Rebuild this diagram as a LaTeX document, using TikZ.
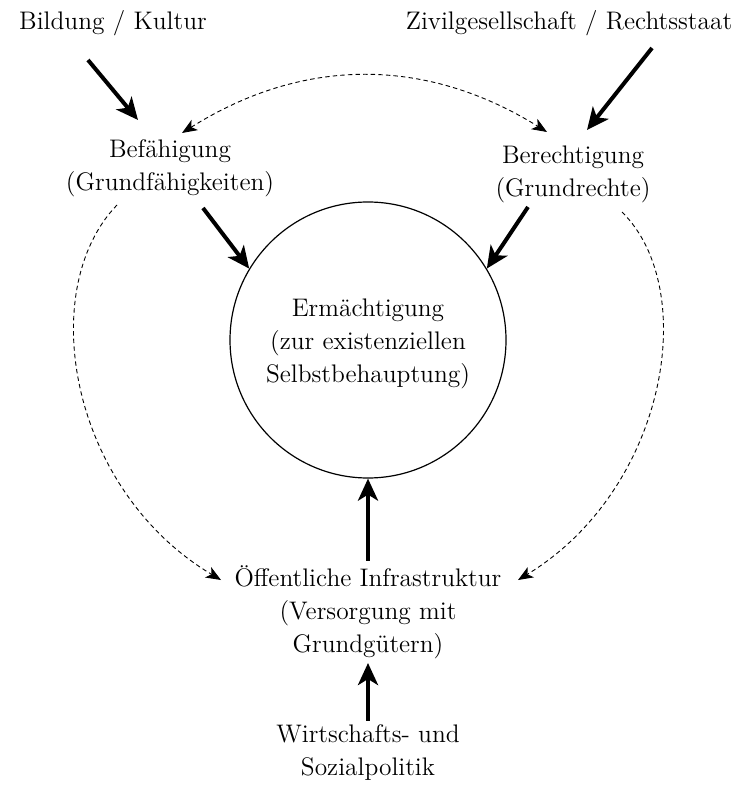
\documentclass[tikz,border=0pt]{standalone}
\usepackage{tikz}
\usetikzlibrary{arrows.meta,positioning}
\tikzset{smalltip/.tip={Stealth[length=7.5pt,width=6pt,inset=2pt]}}

\begin{document}
\begin{tikzpicture}[
    x=0.5pt, y=-0.5pt,
    every node/.style={font=\fontsize{12.7}{16.5}\selectfont},
    lbl/.style={align=center, inner sep=2pt},
    fat/.style={line width=2pt, -{Stealth[length=11pt,width=10pt,inset=3pt]}},
    dashline/.style={line width=0.45pt, dash pattern=on 2.2pt off 1.6pt, -smalltip}]
\useasboundingbox (0,0) rectangle (736,785);

\node[lbl] (bildung) at (113,23) {Bildung / Kultur};
\node[lbl] (zivil) at (569,23) {Zivilgesellschaft / Rechtsstaat};
\node[lbl] (befaehigung) at (170,168) {Bef\"ahigung\\(Grundf\"ahigkeiten)};
\node[lbl] (berechtigung) at (573,174) {Berechtigung\\(Grundrechte)};
\node[circle, draw, line width=0.6pt, minimum size=138pt, inner sep=0, align=center] (erm) at (368,340)
    {\\[-4pt]Erm\"achtigung\\(zur existenziellen\\Selbstbehauptung)};
\node[lbl] (oeff) at (368,612) {\"Offentliche Infrastruktur\\(Versorgung mit\\Grundg\"utern)};
\node[lbl] (wirt) at (368,753) {Wirtschafts- und\\Sozialpolitik};

% thick arrows
\draw[fat] ([shift={(-25,37)}]bildung.center) -- ([shift={(-32,-48)}]befaehigung.center);
\draw[fat] ([shift={(83,25)}]zivil.center) -- ([shift={(14,-44)}]berechtigung.center);
\draw[fat] ([shift={(33,40)}]befaehigung.center) -- (erm.149);
\draw[fat] ([shift={(-45,33)}]berechtigung.center) -- (erm.31);
\draw[fat] (oeff.north) -- (erm.south);
\draw[fat] (wirt.north) -- (oeff.south);

% dashed links
\draw[dashline, smalltip-smalltip] ([shift={(12,-35)}]befaehigung.center) to[bend left=32] ([shift={(-26,-42)}]berechtigung.center);
\draw[dashline] ([shift={(-53,37)}]befaehigung.center) .. controls (35,290) and (70,490) .. ([shift={(-147,-32)}]oeff.center);
\draw[dashline] ([shift={(49,38)}]berechtigung.center) .. controls (701,290) and (666,490) .. ([shift={(150,-32)}]oeff.center);

\end{tikzpicture}
\end{document}
